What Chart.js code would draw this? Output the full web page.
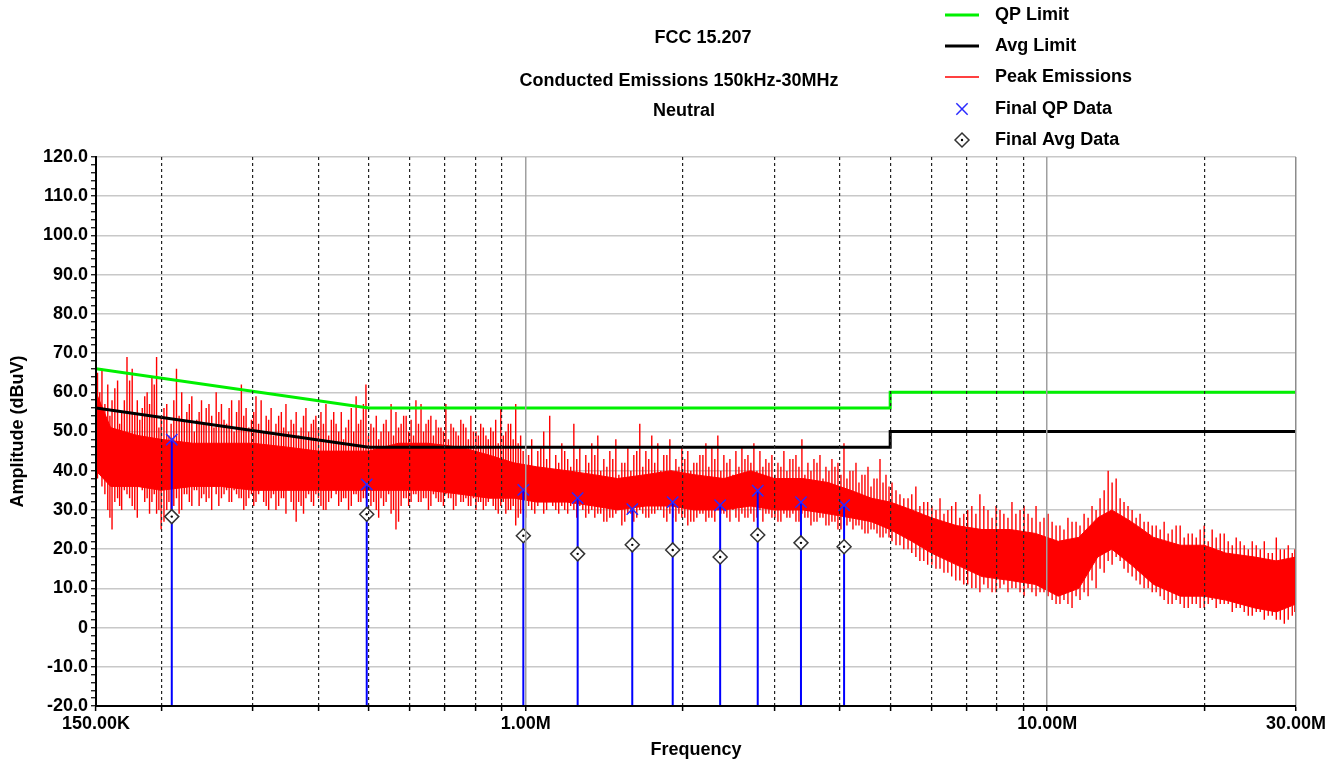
<!DOCTYPE html>
<html>
<head>
<meta charset="utf-8">
<title>FCC 15.207 Conducted Emissions 150kHz-30MHz - Neutral</title>
<script src="https://cdn.jsdelivr.net/npm/chart.js@4.4.1/dist/chart.umd.min.js"></script>
<style>
  html, body { margin: 0; padding: 0; background: #fff; }
  #wrap { width: 1341px; height: 765px; }
</style>
</head>
<body>
<div id="wrap"><canvas id="emi" width="1341" height="765"></canvas></div>
<script>
// ---- data (frequency in MHz, level in dBuV) ----

const titleLines = ['FCC 15.207', 'Conducted Emissions 150kHz-30MHz', 'Neutral'];

// FCC 15.207 limit lines
const limitFreq = [0.15, 0.5, 5, 5, 30];
const qpLimit   = [66, 56, 56, 60, 60];
const avgLimit  = [56, 46, 46, 50, 50];

// peak scan: solid body of the trace
const bodyFreq = [0.15, 0.16, 0.18, 0.2, 0.23, 0.26, 0.3, 0.35, 0.4, 0.45,
  0.5, 0.57, 0.65, 0.75, 0.85, 0.95, 1.05, 1.2, 1.35, 1.5,
  1.7, 1.9, 2.1, 2.4, 2.7, 3.0, 3.4, 3.8, 4.2, 4.6,
  5.0, 5.5, 6.0, 6.7, 7.5, 8.5, 9.5, 10.5, 11.5, 12.5,
  13.3, 14.5, 16, 18, 20, 22, 25, 27.5, 30];
const bodyHi = [60, 51, 49, 48, 47, 47, 47, 46, 45, 45,
  45, 47, 47, 46, 44, 42, 41, 40, 39, 38,
  39, 40, 39, 38, 40, 38, 38, 37, 35, 33,
  32, 30, 28, 26, 25, 25, 24, 22, 23, 28,
  30, 27, 23, 21, 21, 19, 18, 17, 18];
const bodyLo = [40, 36, 36, 35, 36, 36, 35, 35, 35, 35,
  35, 35, 35, 34, 33, 33, 32, 32, 31, 30,
  31, 31, 30, 30, 31, 30, 30, 29, 28, 27,
  25, 22, 19, 16, 13, 12, 11, 8, 10, 18,
  20, 16, 11, 8, 8, 7, 5, 4, 6];

// peak scan: spikes, first pass (top and bottom of each)
const spikeFreq = [
  0.151, 0.154, 0.158, 0.161, 0.165, 0.168, 0.172, 0.176, 0.180, 0.184,
  0.188, 0.192, 0.196, 0.200, 0.205, 0.209, 0.214, 0.219, 0.224, 0.229,
  0.234, 0.239, 0.244, 0.250, 0.255, 0.261, 0.267, 0.273, 0.279, 0.285,
  0.291, 0.298, 0.304, 0.311, 0.318, 0.325, 0.332, 0.340, 0.347, 0.355,
  0.363, 0.371, 0.379, 0.388, 0.396, 0.405, 0.414, 0.424, 0.433, 0.443,
  0.452, 0.463, 0.473, 0.483, 0.494, 0.505, 0.517, 0.528, 0.540, 0.552,
  0.564, 0.577, 0.590, 0.603, 0.616, 0.630, 0.644, 0.658, 0.673, 0.688,
  0.703, 0.719, 0.735, 0.751, 0.768, 0.785, 0.803, 0.820, 0.839, 0.857,
  0.876, 0.896, 0.916, 0.936, 0.957, 0.978, 1.000,
  1.027, 1.055, 1.083, 1.112, 1.142, 1.173, 1.204, 1.237, 1.270, 1.304,
  1.339, 1.375, 1.412, 1.450, 1.489, 1.529, 1.570, 1.612, 1.655, 1.700,
  1.745, 1.792, 1.840, 1.890, 1.941, 1.993, 2.046, 2.101, 2.158, 2.216,
  2.275, 2.336, 2.399, 2.464, 2.530, 2.598, 2.668, 2.739, 2.813, 2.888,
  2.966, 3.046, 3.127, 3.211, 3.298, 3.386, 3.477, 3.571, 3.667, 3.765,
  3.866, 3.970, 4.077, 4.186, 4.299, 4.414, 4.533, 4.655, 4.780, 4.908,
  5.04, 5.22, 5.41, 5.60, 5.80, 6.01, 6.23, 6.45, 6.68, 6.92,
  7.17, 7.43, 7.70, 7.98, 8.26, 8.56, 8.87, 9.19, 9.52, 9.86,
  10.22, 10.58, 10.96, 11.36, 11.77, 12.19, 12.63, 13.09, 13.56, 14.04,
  14.55, 15.07, 15.62, 16.18, 16.76, 17.36, 17.99, 18.64, 19.31, 20.00,
  20.72, 21.47, 22.24, 23.04, 23.87, 24.73, 25.62, 26.54, 27.50, 28.49,
  29.51];
const spikeHi = [
  65, 66, 62, 58, 63, 55, 69, 66, 58, 56,
  60, 64, 69, 54, 57, 52, 66, 60, 55, 59,
  53, 58, 56, 54, 60, 57, 52, 58, 55, 62,
  56, 53, 59, 58, 54, 56, 52, 55, 57, 53,
  55, 51, 56, 52, 54, 55, 57, 53, 52, 55,
  51, 56, 59, 53, 62, 52, 54, 50, 53, 57,
  55, 52, 54, 53, 58, 57, 52, 54, 53, 51,
  57, 52, 50, 53, 51, 54, 50, 52, 49, 51,
  53, 56, 50, 52, 57, 49, 46,
  48, 45, 50, 54, 44, 47, 43, 52, 46, 44,
  47, 49, 43, 45, 48, 42, 46, 44, 52, 45,
  49, 47, 44, 48, 43, 46, 45, 42, 44, 47,
  46, 49, 44, 43, 45, 46, 44, 47, 45, 43,
  44, 42, 45, 43, 44, 48, 42, 43, 44, 41,
  43, 42, 47, 40, 42, 39, 41, 38, 43, 39,
  37, 34, 33, 36, 32, 31, 33, 30, 32, 29,
  31, 34, 30, 31, 29, 32, 30, 29, 31, 28,
  27, 26, 28, 27, 29, 31, 33, 40, 38, 32,
  30, 29, 27, 26, 27, 25, 26, 24, 23, 26,
  25, 24, 22, 23, 21, 22, 20, 19, 23, 20,
  19];
const spikeLo = [
  38, 36, 30, 25, 33, 30, 34, 31, 28, 35,
  33, 32, 29, 25, 30, 28, 33, 30, 34, 31,
  35, 33, 32, 30, 34, 33, 35, 32, 34, 33,
  31, 34, 32, 35, 31, 33, 30, 33, 29, 32,
  27, 31, 33, 32, 34, 31, 30, 33, 34, 32,
  33, 31, 34, 32, 33, 31, 30, 33, 32, 29,
  25, 31, 33, 32, 34, 32, 33, 31, 33, 32,
  34, 33, 31, 32, 33, 31, 30, 32, 31, 33,
  30, 31, 29, 30, 26, 29, 28,
  30, 31, 29, 32, 30, 31, 29, 30, 31, 28,
  30, 29, 27, 28, 29, 26, 29, 27, 30, 28,
  29, 30, 28, 29, 27, 28, 26, 27, 29, 27,
  28, 30, 29, 27, 28, 29, 28, 27, 30, 29,
  28, 27, 29, 28, 27, 29, 28, 27, 28, 26,
  27, 25, 26, 27, 26, 25, 24, 25, 23, 24,
  22, 21, 20, 18, 17, 16, 15, 14, 12, 11,
  10, 9, 10, 9, 11, 10, 9, 10, 8, 9,
  7, 6, 6, 8, 9, 12, 15, 17, 18, 15,
  13, 11, 10, 9, 7, 6, 6, 5, 6, 5,
  7, 6, 6, 5, 4, 3, 4, 3, 2, 1,
  3];

// peak scan: spikes, second pass (between the first-pass ones)
const spike2Freq = [
  0.1525, 0.156, 0.1595, 0.163, 0.1665, 0.170, 0.174, 0.178, 0.182, 0.186,
  0.190, 0.194, 0.198, 0.2025, 0.207, 0.2115, 0.2165, 0.2215, 0.2265, 0.2315,
  0.2365, 0.2415, 0.247, 0.2525, 0.258, 0.264, 0.270, 0.276, 0.282, 0.288,
  0.2945, 0.301, 0.3075, 0.3145, 0.3215, 0.3285, 0.336, 0.3435, 0.351, 0.359,
  0.367, 0.375, 0.3835, 0.392, 0.4005, 0.4095, 0.419, 0.4285, 0.438, 0.4475,
  0.4575, 0.468, 0.478, 0.4885, 0.4995, 0.511, 0.5225, 0.534, 0.546, 0.558,
  0.5705, 0.5835, 0.5965, 0.6095, 0.623, 0.637, 0.651, 0.6655, 0.6805, 0.6955,
  0.711, 0.727, 0.743, 0.7595, 0.7765, 0.794, 0.8115, 0.8295, 0.848, 0.8665,
  0.886, 0.906, 0.926, 0.9465, 0.9675, 0.989,
  1.013, 1.041, 1.069, 1.097, 1.127, 1.157, 1.188, 1.220, 1.253, 1.287,
  1.321, 1.357, 1.393, 1.431, 1.469, 1.509, 1.549, 1.591, 1.633, 1.677,
  1.722, 1.768, 1.816, 1.865, 1.915, 1.967, 2.019, 2.073, 2.129, 2.187,
  2.245, 2.305, 2.367, 2.431, 2.497, 2.564, 2.633, 2.703, 2.776, 2.850,
  2.927, 3.006, 3.086, 3.169, 3.254, 3.342, 3.431, 3.524, 3.619, 3.716,
  3.815, 3.918, 4.023, 4.131, 4.242, 4.356, 4.473, 4.594, 4.717, 4.844,
  4.974,
  5.13, 5.31, 5.50, 5.70, 5.90, 6.12, 6.34, 6.56, 6.80, 7.04,
  7.30, 7.56, 7.84, 8.12, 8.41, 8.71, 9.03, 9.35, 9.69, 10.04,
  10.40, 10.77, 11.16, 11.56, 11.98, 12.41, 12.86, 13.32, 13.80, 14.29,
  14.81, 15.34, 15.90, 16.47, 17.06, 17.67, 18.31, 18.97, 19.65, 20.36,
  21.09, 21.85, 22.64, 23.45, 24.30, 25.17, 26.08, 27.02, 27.99, 28.99,
  29.85];
const spike2Hi = [
  60, 57, 54, 61, 52, 58, 63, 55, 53, 59,
  57, 62, 51, 56, 49, 58, 54, 53, 57, 50,
  55, 52, 57, 51, 55, 53, 56, 50, 58, 54,
  51, 55, 52, 50, 53, 49, 54, 51, 50, 52,
  49, 54, 50, 53, 51, 52, 49, 55, 50, 48,
  53, 50, 52, 57, 49, 51, 48, 52, 50, 49,
  51, 54, 50, 49, 52, 50, 53, 49, 51, 50,
  48, 51, 49, 52, 48, 50, 49, 51, 48, 50,
  47, 49, 52, 48, 47, 45,
  44, 41, 46, 43, 40, 42, 45, 41, 43, 39,
  42, 44, 40, 41, 43, 39, 42, 40, 45, 41,
  43, 42, 40, 44, 39, 41, 43, 40, 42, 44,
  41, 43, 40, 42, 39, 41, 43, 42, 40, 41,
  42, 39, 41, 40, 43, 41, 39, 40, 42, 38,
  40, 41, 39, 38, 40, 37, 39, 36, 38, 37,
  36,
  35, 33, 34, 31, 32, 30, 29, 31, 28, 30,
  29, 31, 28, 30, 28, 29, 31, 28, 27, 29,
  26, 25, 27, 26, 28, 30, 35, 37, 33, 31,
  28, 27, 26, 25, 24, 26, 23, 24, 25, 22,
  23, 24, 21, 22, 20, 21, 22, 19, 20, 21,
  20];
const spike2Lo = [
  40, 34, 28, 32, 31, 35, 33, 30, 36, 32,
  29, 34, 30, 27, 32, 31, 29, 34, 32, 35,
  31, 34, 33, 36, 31, 34, 32, 35, 33, 30,
  33, 31, 34, 32, 30, 34, 31, 33, 35, 30,
  32, 29, 34, 31, 33, 30, 32, 35, 31, 33,
  30, 34, 32, 33, 35, 32, 28, 31, 34, 30,
  27, 33, 31, 34, 32, 33, 30, 34, 32, 31,
  33, 30, 34, 32, 31, 33, 32, 30, 32, 31,
  29, 32, 30, 31, 28, 30,
  31, 29, 32, 30, 31, 29, 30, 31, 28, 30,
  29, 28, 29, 27, 28, 30, 27, 29, 28, 29,
  28, 29, 30, 27, 28, 29, 28, 27, 28, 29,
  28, 27, 29, 28, 30, 27, 28, 29, 28, 27,
  29, 28, 27, 28, 29, 27, 28, 26, 27, 28,
  26, 27, 25, 26, 25, 26, 24, 25, 24, 23,
  23,
  21, 20, 19, 17, 16, 15, 14, 13, 12, 11,
  10, 11, 9, 10, 9, 10, 8, 9, 9, 8,
  6, 7, 5, 7, 8, 10, 14, 16, 17, 14,
  12, 10, 9, 8, 6, 7, 5, 6, 5, 6,
  5, 6, 4, 5, 3, 4, 2, 3, 2, 2,
  4];

// final measurements
const qpFreq   = [0.2096, 0.4957, 0.9897, 1.258, 1.601, 1.914, 2.36, 2.786, 3.372, 4.079];
const qpLevel  = [47.9, 36.5, 35.1, 33.0, 30.2, 32.0, 31.2, 34.9, 32.0, 31.2];
const avgLevel = [28.3, 28.9, 23.4, 18.8, 21.1, 19.8, 18.0, 23.6, 21.6, 20.6];

// axes
const xGridFreq  = [0.15, 0.2, 0.3, 0.4, 0.5, 0.6, 0.7, 0.8, 0.9, 1,
  2, 3, 4, 5, 6, 7, 8, 9, 10, 20, 30];
const xLabelFreq = [0.15, 1, 10, 30];
const xLabelText = ['150.00K', '1.00M', '10.00M', '30.00M'];
const yMin = -20, yMax = 120, yMinorStep = 2, yMajorStep = 10;

// ---- chart ----

const FONT = '"Liberation Sans", Arial, sans-serif';
Chart.defaults.font.family = FONT;
Chart.defaults.font.size = 18;
Chart.defaults.font.weight = 'bold';
Chart.defaults.color = '#000';

function pts(xs, ys) {
  return xs.map((x, i) => ({ x: x, y: ys[i] }));
}

// every spike is its own vertical stroke, null breaks the line between them
function strokes(xs, lo, hi) {
  const out = [];
  xs.forEach((f, i) => {
    out.push({ x: f, y: lo[i] }, { x: f, y: hi[i] }, { x: f, y: null });
  });
  return out;
}

const spikePts = strokes(spikeFreq, spikeLo, spikeHi)
  .concat(strokes(spike2Freq, spike2Lo, spike2Hi));
const stemPts = strokes(qpFreq, qpFreq.map(() => yMin), qpLevel);

const yTicks = [];
for (let v = yMin; v <= yMax; v += yMinorStep) yTicks.push(v);

const isMajorX = v => v === 1 || v === 10;

// title and legend drawn in the free band above the plot
const headerPlugin = {
  id: 'header',
  afterDraw(chart) {
    const ctx = chart.ctx;
    const ds = chart.data.datasets;
    ctx.save();
    ctx.font = 'bold 18px ' + FONT;
    ctx.fillStyle = '#000';
    ctx.textBaseline = 'middle';
    ctx.textAlign = 'center';
    const tx = [703, 679, 684], ty = [38, 81, 111];
    titleLines.forEach((t, i) => ctx.fillText(t, tx[i], ty[i]));

    const rows = [0, 1, 4, 6, 7];
    const ly = [15, 46, 77, 109, 140];
    rows.forEach((di, r) => {
      const d = ds[di];
      const y = ly[r];
      const cx = 962;
      ctx.save();
      if (d.showLine !== false) {
        ctx.strokeStyle = d.borderColor;
        ctx.lineWidth = d.borderWidth;
        ctx.beginPath();
        ctx.moveTo(945, y);
        ctx.lineTo(979, y);
        ctx.stroke();
      } else if (d.pointStyle === 'crossRot') {
        const a = d.pointRadius * Math.SQRT1_2;
        ctx.strokeStyle = d.pointBorderColor;
        ctx.lineWidth = d.pointBorderWidth;
        ctx.beginPath();
        ctx.moveTo(cx - a, y - a); ctx.lineTo(cx + a, y + a);
        ctx.moveTo(cx - a, y + a); ctx.lineTo(cx + a, y - a);
        ctx.stroke();
      } else {
        const rr = d.pointRadius;
        ctx.fillStyle = d.pointBackgroundColor;
        ctx.strokeStyle = d.pointBorderColor;
        ctx.lineWidth = d.pointBorderWidth;
        ctx.beginPath();
        ctx.moveTo(cx - rr, y); ctx.lineTo(cx, y - rr);
        ctx.lineTo(cx + rr, y); ctx.lineTo(cx, y + rr);
        ctx.closePath();
        ctx.fill(); ctx.stroke();
        ctx.fillStyle = '#000';
        ctx.beginPath(); ctx.arc(cx, y, 1.2, 0, Math.PI * 2); ctx.fill();
      }
      ctx.restore();
      ctx.textAlign = 'left';
      ctx.fillText(d.label, 995, y);
    });
    ctx.restore();
  }
};

const chart = new Chart(document.getElementById('emi').getContext('2d'), {
  type: 'line',
  data: {
    datasets: [
      { label: 'QP Limit', data: pts(limitFreq, qpLimit),
        borderColor: '#00f000', borderWidth: 3, order: 2 },
      { label: 'Avg Limit', data: pts(limitFreq, avgLimit),
        borderColor: '#000000', borderWidth: 3, order: 2 },
      { label: 'body low', data: pts(bodyFreq, bodyLo),
        borderColor: '#ff0000', borderWidth: 1, fill: false, order: 4 },
      { label: 'body high', data: pts(bodyFreq, bodyHi),
        borderColor: '#ff0000', borderWidth: 1, backgroundColor: '#ff0000', fill: '-1', order: 4 },
      { label: 'Peak Emissions', data: spikePts,
        borderColor: '#ff0000', borderWidth: 1.4, spanGaps: false, order: 3 },
      { label: 'QP stems', data: stemPts,
        borderColor: '#0000ff', borderWidth: 2, spanGaps: false, order: 1 },
      { label: 'Final QP Data', data: pts(qpFreq, qpLevel), showLine: false,
        pointStyle: 'crossRot', pointRadius: 8, pointBorderColor: '#2a2aff',
        pointBorderWidth: 1.5, order: 0 },
      { label: 'Final Avg Data', data: pts(qpFreq, avgLevel), showLine: false,
        pointStyle: 'rectRot', pointRadius: 7, pointBackgroundColor: '#ffffff',
        pointBorderColor: '#333333', pointBorderWidth: 1.5, order: 0 },
      { label: 'avg centre', data: pts(qpFreq, avgLevel), showLine: false,
        pointStyle: 'circle', pointRadius: 1.2, pointBackgroundColor: '#000000',
        pointBorderWidth: 0, order: -1 }
    ]
  },
  options: {
    responsive: false,
    animation: false,
    events: [],
    layout: { padding: { top: 157, right: 45, left: 0, bottom: 0 } },
    elements: {
      point: { radius: 0 },
      line: { tension: 0 }
    },
    plugins: {
      legend: { display: false },
      tooltip: { enabled: false },
      title: { display: false }
    },
    scales: {
      x: {
        type: 'logarithmic',
        min: 0.15,
        max: 30,
        offset: false,
        afterBuildTicks: s => { s.ticks = xGridFreq.map(v => ({ value: v })); },
        afterFit: s => { s.height = 59; },
        ticks: {
          autoSkip: false,
          maxRotation: 0,
          padding: 2,
          callback: v => {
            const k = xLabelFreq.findIndex(f => Math.abs(f - v) < 1e-9);
            return k < 0 ? '' : xLabelText[k];
          }
        },
        grid: {
          z: 1,
          color: c => {
            if (!c.tick) return '#000';
            const v = c.tick.value;
            if (v === 0.15) return 'rgba(0,0,0,0)';
            if (v === 30) return '#8c8c8c';
            return isMajorX(v) ? '#a0a0a0' : '#222222';
          },
          lineWidth: c => (c.tick && (isMajorX(c.tick.value) || c.tick.value === 30)) ? 1.5 : 1.2,
          tickColor: '#000',
          tickLength: 5,
          tickWidth: 1.5
        },
        border: {
          z: 2,
          color: '#000',
          width: 2,
          dash: c => (c.tick && !isMajorX(c.tick.value) && c.tick.value !== 30) ? [3, 3] : []
        },
        title: { display: true, text: 'Frequency', padding: { top: 0, bottom: 4 } }
      },
      y: {
        min: yMin,
        max: yMax,
        afterBuildTicks: s => { s.ticks = yTicks.map(v => ({ value: v })); },
        afterFit: s => { s.width = 96; },
        ticks: {
          autoSkip: false,
          padding: 3,
          callback: v => {
            if (v % yMajorStep !== 0) return '';
            return v === 0 ? '0' : v.toFixed(1);
          }
        },
        grid: {
          color: c => (c.tick && c.tick.value % yMajorStep === 0) ? '#c8c8c8' : 'rgba(0,0,0,0)',
          lineWidth: 1.5,
          tickColor: '#000',
          tickLength: 5,
          tickWidth: 1.2
        },
        border: { z: 2, color: '#000', width: 2 },
        title: { display: true, text: 'Amplitude (dBuV)', padding: { top: 7, bottom: 0 } }
      }
    }
  },
  plugins: [headerPlugin]
});
</script>
</body>
</html>
